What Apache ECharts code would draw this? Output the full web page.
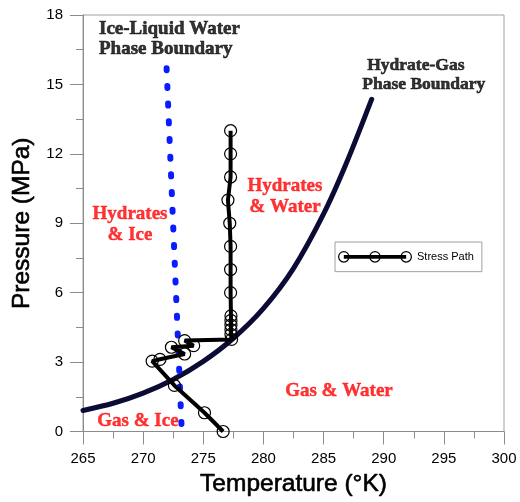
<!DOCTYPE html>
<html>
<head>
<meta charset="utf-8">
<script src="https://cdn.jsdelivr.net/npm/echarts@6/dist/echarts.min.js"></script>
<style>
  html, body { margin: 0; padding: 0; background: #fff; }
  #chart { width: 520px; height: 502px; }
</style>
</head>
<body>
<div id="chart"></div>
<script>
// Temperature (°K) / pressure (MPa) pairs
const stressPathT = [276.65, 275.1, 272.6, 270.75, 271.4, 273.45, 272.35, 274.2, 273.45, 277.35, 277.3, 277.3, 277.3, 277.3, 277.3, 277.27, 277.27, 277.27, 277.2, 277.05, 277.27, 277.27, 277.27];
const stressPathP = [0.0, 0.81, 1.99, 3.04, 3.12, 3.35, 3.64, 3.71, 3.93, 3.98, 4.2, 4.4, 4.6, 4.8, 5.0, 6.0, 7.0, 8.0, 9.0, 10.0, 11.0, 12.0, 13.0];

const hydrateGasT = [265.0, 267.5, 270.0, 272.5, 275.0, 277.5, 280.0, 282.5, 285.0, 286.9, 289.0];
const hydrateGasP = [0.91, 1.22, 1.66, 2.25, 3.03, 4.03, 5.32, 7.05, 9.4, 11.6, 14.36];

const iceWaterT = [271.95, 273.2];
const iceWaterP = [15.7, 0.15];

const xTicks = { min: 265, max: 300, step: 5 };
const yTicks = { min: 0, max: 18, step: 3 };

// Boundary captions, anchored in data coordinates (left edge, line middle)
const iceWaterCaption = [
  { t: 266.33, p: 17.40, text: 'Ice-Liquid Water' },
  { t: 266.33, p: 16.54, text: 'Phase Boundary' }
];
const hydrateGasCaption = [
  { t: 288.63, p: 15.81, text: 'Hydrate-Gas' },
  { t: 288.22, p: 14.99, text: 'Phase Boundary' }
];
// Phase-region captions (centre)
const regionLabels = [
  { t: 268.91, p: 8.94, text: 'Hydrates\n& Ice' },
  { t: 281.79, p: 10.17, text: 'Hydrates\n& Water' },
  { t: 269.57, p: 0.46, text: 'Gas & Ice' },
  { t: 286.28, p: 1.75, text: 'Gas & Water' }
];

const zip = (xs, ys) => xs.map((x, i) => [x, ys[i]]);

// Legend glyph: thick bar with three open rings on it
function ring(cx, cy, r, w) {
  const ri = r - w;
  return `M${cx - r},${cy} A${r},${r} 0 1,1 ${cx + r},${cy} A${r},${r} 0 1,1 ${cx - r},${cy} Z ` +
         `M${cx - ri},${cy} A${ri},${ri} 0 1,0 ${cx + ri},${cy} A${ri},${ri} 0 1,0 ${cx - ri},${cy} Z `;
}
const legendIcon = 'path://' +
  'M6,4.2 L68,4.2 L68,7.8 L6,7.8 Z ' +
  ring(6, 6, 5.8, 1.2) + ring(37, 6, 5.8, 1.2) + ring(68, 6, 5.8, 1.2);

const sansFont = '"Liberation Sans", Arial, sans-serif';
const serifFont = '"Liberation Serif", "Times New Roman", serif';

const chart = echarts.init(document.getElementById('chart'), null, { renderer: 'canvas' });

const axisCommon = {
  axisLine: { show: true, lineStyle: { color: '#8c8c8c', width: 1 } },
  axisTick: { show: true, length: 13, lineStyle: { color: '#8c8c8c' } },
  minorTick: { show: true, splitNumber: 2, length: 7, lineStyle: { color: '#8c8c8c' } },
  splitLine: { show: false },
  axisLabel: { color: '#000', fontSize: 15, fontFamily: sansFont, margin: 20 },
  nameLocation: 'middle',
  nameTextStyle: {
    color: '#000', fontSize: 24.5, fontFamily: sansFont,
    textBorderColor: '#000', textBorderWidth: 0.6
  }
};

function captionSeries(name, items, size) {
  return {
    name: name,
    type: 'scatter',
    data: items.map(d => ({ value: [d.t, d.p], name: d.text })),
    symbolSize: 0,
    silent: true,
    label: {
      show: true, position: [0, 0], align: 'left', verticalAlign: 'middle',
      formatter: p => p.name,
      color: '#000', fontSize: size, fontWeight: 'bold', fontFamily: serifFont,
      textBorderColor: '#000', textBorderWidth: 0.6
    },
    z: 5
  };
}

chart.setOption({
  animation: false,
  backgroundColor: '#fff',
  grid: {
    left: 83, right: 16, top: 15, bottom: 69,
    show: true, borderColor: '#a0a0a0', borderWidth: 1, backgroundColor: 'transparent'
  },
  xAxis: Object.assign({}, axisCommon, {
    type: 'value', min: xTicks.min, max: xTicks.max, interval: xTicks.step,
    name: 'Temperature (°K)', nameGap: 38
  }),
  yAxis: Object.assign({}, axisCommon, {
    type: 'value', min: yTicks.min, max: yTicks.max, interval: yTicks.step,
    name: 'Pressure (MPa)', nameGap: 47
  }),
  legend: {
    show: true,
    left: 335, top: 242,
    orient: 'vertical',
    padding: [9, 8, 9, 3],
    borderColor: '#a0a0a0', borderWidth: 1, borderRadius: 0,
    backgroundColor: '#fff',
    itemWidth: 74, itemHeight: 12, itemGap: 0,
    textStyle: { color: '#000', fontSize: 11, fontFamily: sansFont },
    data: [{ name: 'Stress Path', icon: legendIcon, itemStyle: { color: '#000', borderWidth: 0 } }]
  },
  series: [
    {
      name: 'Hydrate-Gas Boundary',
      type: 'line',
      data: zip(hydrateGasT, hydrateGasP),
      smooth: 0.3,
      showSymbol: false,
      symbol: 'none',
      lineStyle: { color: '#0b0b36', width: 5, cap: 'round' },
      z: 2
    },
    {
      name: 'Ice-Liquid Boundary',
      type: 'line',
      data: zip(iceWaterT, iceWaterP),
      showSymbol: false,
      symbol: 'none',
      lineStyle: { color: '#0a1cff', width: 6, type: [2, 15.7], cap: 'round' },
      z: 3
    },
    {
      name: 'Stress Path',
      type: 'line',
      data: zip(stressPathT, stressPathP),
      symbol: 'circle',
      symbolSize: 12,
      showAllSymbol: true,
      lineStyle: { color: '#000', width: 4 },
      itemStyle: { color: 'transparent', borderColor: '#000', borderWidth: 1.2 },
      z: 4
    },
    captionSeries('Ice-Liquid Caption', iceWaterCaption, 19),
    captionSeries('Hydrate-Gas Caption', hydrateGasCaption, 17.5),
    {
      name: 'Region Captions',
      type: 'scatter',
      data: regionLabels.map(d => ({ value: [d.t, d.p], name: d.text })),
      symbolSize: 0,
      silent: true,
      label: {
        show: true, position: [0, 0], align: 'center', verticalAlign: 'middle',
        formatter: p => p.name, lineHeight: 21,
        color: '#ff0000', fontSize: 19, fontWeight: 'bold', fontFamily: serifFont,
        textBorderColor: '#ff0000', textBorderWidth: 0.4
      },
      z: 5
    }
  ]
});
</script>
</body>
</html>
